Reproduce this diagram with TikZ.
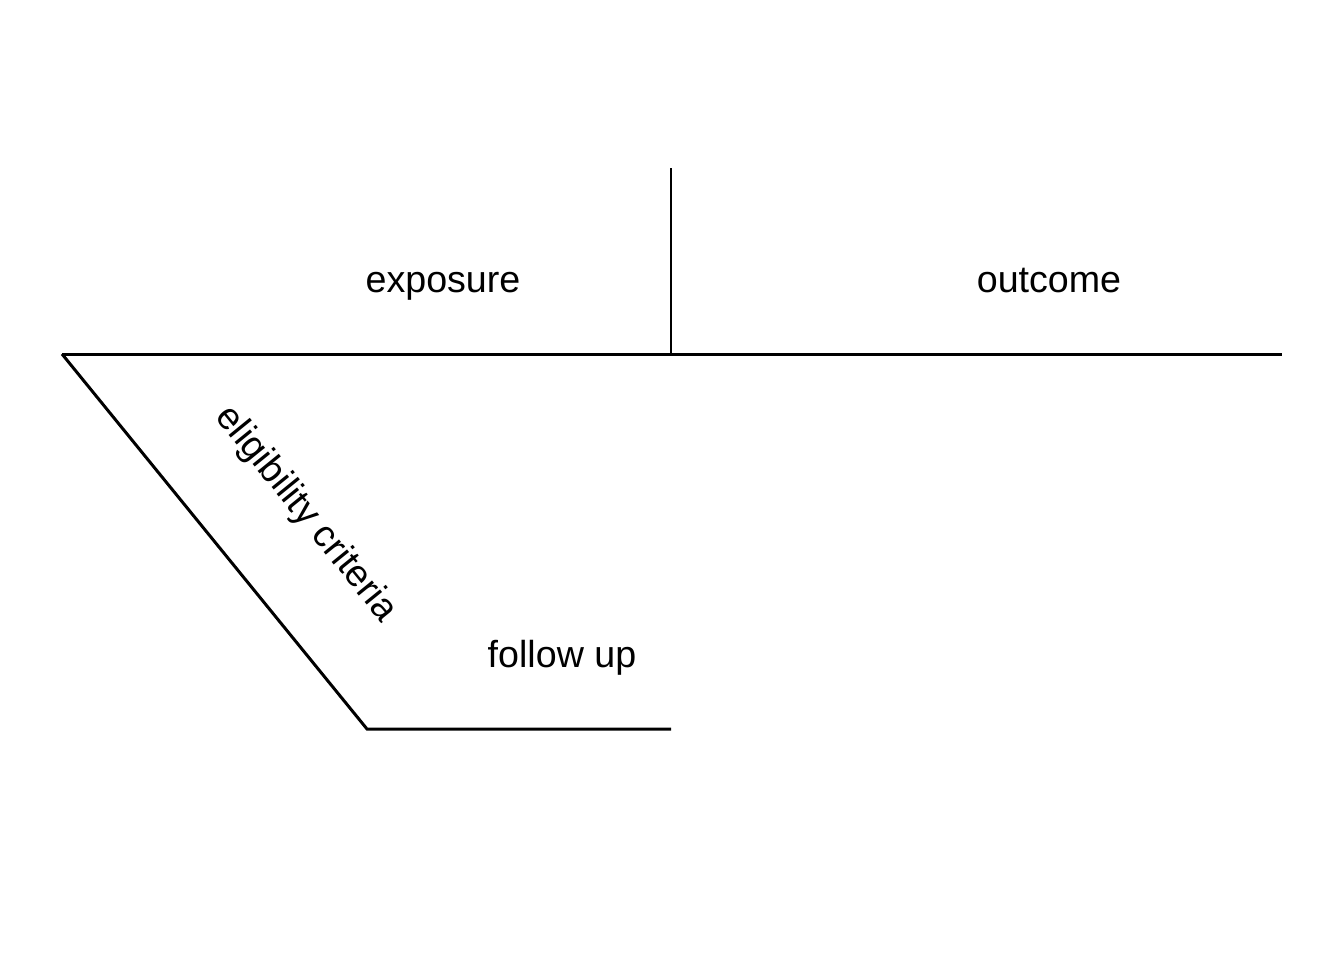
\documentclass[tikz,border=0pt]{standalone}
\usepackage{fontspec}
\setmainfont{Liberation Sans}
\begin{document}
\begin{tikzpicture}[x=0.01cm,y=-0.01cm,
  ln/.style={line width=0.85pt,black},
  lbl/.style={font=\fontsize{10.7}{12}\selectfont,inner sep=0pt}]
\useasboundingbox (0,0) rectangle (1344,960);
\coordinate (hl) at (62,354);
\coordinate (hm) at (671,354);
\coordinate (hr) at (1282,354);
\coordinate (vt) at (671,168);
\coordinate (dl) at (367,729);
\coordinate (br) at (671,729);
\draw[ln] (hl) -- (hm) -- (hr);
\draw[ln] (vt) -- (hm);
\draw[ln] (hl) -- (dl) -- (br);
\node[lbl,anchor=base] (exp) at (443,292) {exposure};
\node[lbl,anchor=base] (out) at (1049,292) {outcome};
\node[lbl,anchor=base] (fu) at (562,667) {follow up};
\node[lbl,rotate=-50.9,text height=7.7pt,text depth=0pt] (elig) at (309,512) {eligibility criteria};
\end{tikzpicture}
\end{document}
